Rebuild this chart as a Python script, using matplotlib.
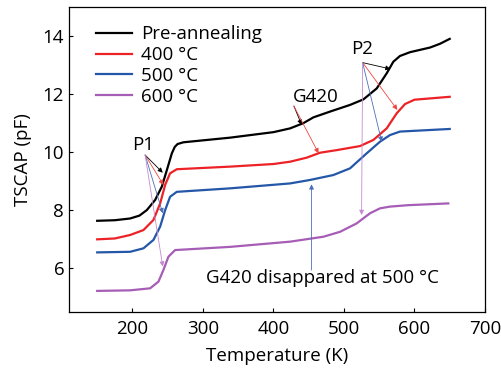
import numpy as np
import matplotlib.pyplot as plt

plt.rcParams['font.family'] = ['Open Sans', 'DejaVu Sans']

# Pre-annealing
t_pre = [150, 175, 196.7, 210, 220.4, 232.2, 241.7, 248.8, 255.9, 260, 264, 272.3, 338.5, 400, 423.6, 442.4, 456.6,
         480.3, 508.6, 527.5, 546.5, 560.6, 570, 579.5, 593.7, 622, 636.2, 650]
c_pre = [7.62, 7.64, 7.70, 7.80, 7.99, 8.34, 8.80, 9.37, 9.95, 10.17, 10.27, 10.33, 10.49, 10.68, 10.81, 10.99, 11.19,
         11.39, 11.62, 11.81, 12.19, 12.71, 13.11, 13.31, 13.44, 13.60, 13.73, 13.90]
# 400 C
t_400 = [150, 175, 196.7, 215.6, 229.8, 239.3, 246.4, 253.4, 262.9, 338.5, 400, 423.6, 447.2, 466.1, 489.8, 522.8,
         541.7, 560.6, 574.8, 586.6, 600, 650]
c_400 = [6.98, 7.01, 7.13, 7.30, 7.65, 8.22, 8.86, 9.26, 9.40, 9.49, 9.58, 9.66, 9.80, 9.97, 10.06, 10.20,
         10.41, 10.81, 11.33, 11.65, 11.80, 11.90]
# 500 C
t_500 = [150, 196.7, 215.6, 229.8, 239.3, 246.4, 253.4, 262.9, 338.5, 423.6, 451.9, 485, 508.6, 532.3, 551.1,
         565.3, 579.5, 650]
c_500 = [6.53, 6.55, 6.67, 6.96, 7.42, 7.99, 8.45, 8.62, 8.74, 8.91, 9.03, 9.20, 9.43, 9.95, 10.35,
         10.58, 10.70, 10.79]
# 600 C
t_600 = [150, 196.7, 225.1, 236.9, 243.9, 251, 260.5, 338.5, 423.6, 470.8, 494.4, 518, 537, 551.1, 565.3, 591.3, 648]
c_600 = [5.20, 5.22, 5.29, 5.52, 5.92, 6.38, 6.61, 6.72, 6.90, 7.07, 7.24, 7.53, 7.88, 8.05, 8.11, 8.16, 8.22]

labels = ['Pre-annealing', '400 °C', '500 °C', '600 °C']
colors = ['black', '#ec2227', '#2457a8', '#a65db5']
arrow_colors = ['black', '#f0453f', '#4a6fb8', '#c48ad0']

fig = plt.figure(figsize=(5.01, 3.68), dpi=100)
ax = fig.add_axes([0.1377, 0.152, 0.8303, 0.829])

for t, c, lab, col in zip([t_pre, t_400, t_500, t_600], [c_pre, c_400, c_500, c_600], labels, colors):
    ax.plot(t, c, color=col, lw=1.6, label=lab, solid_joinstyle='round')

def arrow(x0, y0, x1, y1, col):
    ax.annotate('', xy=(x1, y1), xytext=(x0, y0),
                arrowprops=dict(arrowstyle='-|>', color=col, lw=0.6, mutation_scale=7, shrinkA=0, shrinkB=0))

fs = 13.5

# P1
ax.text(215.6, 10.24, 'P1', fontsize=fs, ha='center', va='center')
p1_targets = [(243, 9.28), (244, 8.86), (243, 7.88), (243, 6.04)]
for (x1, y1), col in zip(p1_targets, arrow_colors):
    arrow(218, 9.89, x1, y1, col)

# G420
ax.text(460, 11.88, 'G420', fontsize=fs, ha='center', va='center')
arrow(429, 11.58, 440, 10.93, arrow_colors[0])
arrow(429, 11.58, 464, 9.95, arrow_colors[1])

# P2
ax.text(525, 13.55, 'P2', fontsize=fs, ha='center', va='center')
p2_targets = [(566, 12.86), (575.7, 11.45), (553.5, 10.35), (525, 7.82)]
for (x1, y1), col in zip(p2_targets, arrow_colors):
    arrow(526.5, 13.08, x1, y1, col)

ax.text(304, 5.66, 'G420 disappared at 500 °C', fontsize=fs, ha='left', va='center')
arrow(454, 5.92, 454, 8.88, arrow_colors[2])

ax.set_xlim(110, 700)
ax.set_ylim(4.47, 15.0)
ax.set_xticks([200, 300, 400, 500, 600, 700])
ax.set_yticks([6, 8, 10, 12, 14])
ax.tick_params(direction='in', length=3, width=0.8, labelsize=fs)
ax.tick_params(axis='x', pad=6)
for s in ax.spines.values():
    s.set_linewidth(0.9)
ax.set_xlabel('Temperature (K)', fontsize=fs, labelpad=6)
ax.set_ylabel('TSCAP (pF)', fontsize=fs, labelpad=8)

ax.legend(loc='upper left', frameon=False, fontsize=fs, handlelength=1.9,
          handletextpad=0.5, labelspacing=0.15, borderaxespad=0, borderpad=0,
          bbox_to_anchor=(0.065, 0.94))

fig.savefig('out.png', dpi=100)
